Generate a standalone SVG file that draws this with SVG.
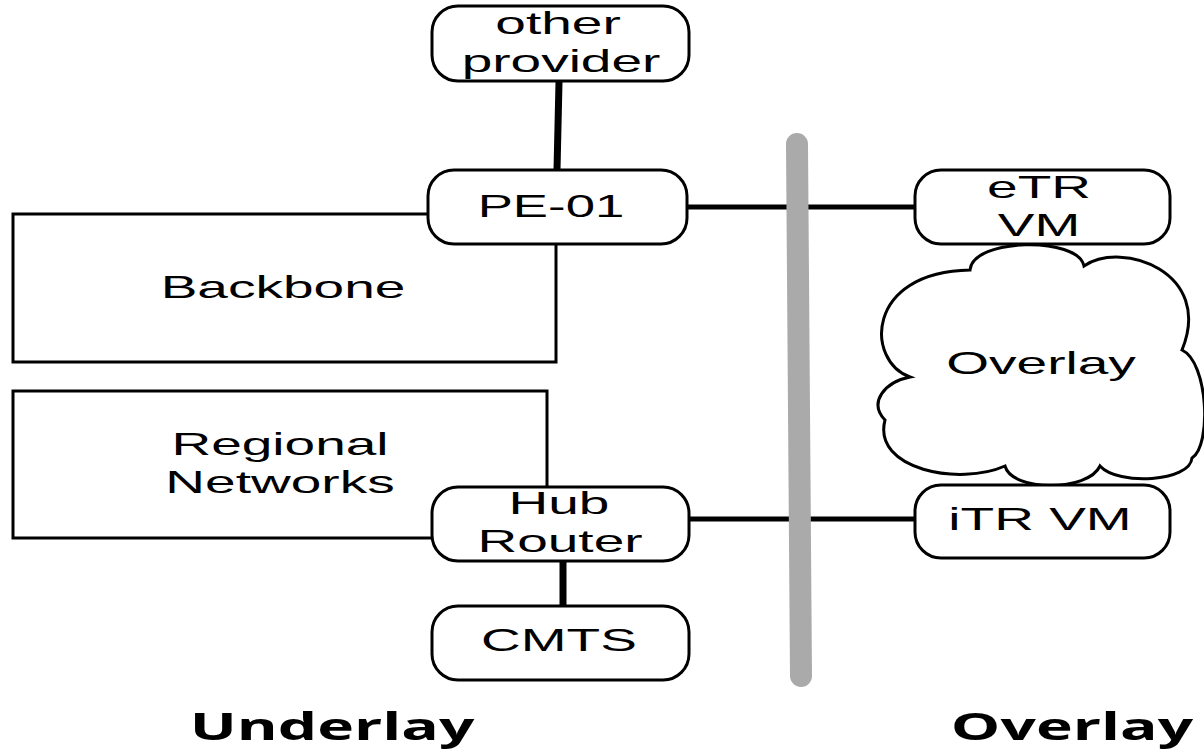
<svg xmlns="http://www.w3.org/2000/svg" width="1204" height="754" viewBox="0 0 1204 754">
<style>
.box{fill:#fff;stroke:#000;stroke-width:3}
.area{fill:none;stroke:#000;stroke-width:3}
.t{font-family:"Liberation Sans",Arial,sans-serif;font-size:32px;fill:#000;text-anchor:middle}
.b{font-family:"Open Sans","DejaVu Sans",sans-serif;font-weight:bold;font-size:38px;fill:#000;text-anchor:middle}
.ln{stroke:#000;stroke-width:5;fill:none}
.thick{stroke:#000;stroke-width:7;fill:none}
</style>
<rect width="1204" height="754" fill="#fff"/>
<g id="backbone">
<path class="area" d="M428 214 H13 V362 H556 V244"/>
<text class="t" transform="translate(283,298) scale(1.72,1)">Backbone</text>
</g>
<g id="regional">
<path class="area" d="M547 487 V391 H13 V538 H432"/>
<text class="t" transform="translate(280,455) scale(1.72,1)">Regional</text>
<text class="t" transform="translate(280,493) scale(1.72,1)">Networks</text>
</g>
<g id="connectors">
<line class="thick" x1="559" y1="82" x2="557" y2="170"/>
<line class="thick" x1="563" y1="562" x2="563" y2="606"/>
<line class="ln" x1="681" y1="207" x2="915" y2="207"/>
<line class="ln" x1="681" y1="519" x2="915" y2="519"/>
</g>
<g id="other-provider">
<rect class="box" x="432" y="6" width="257" height="75" rx="26"/>
<text class="t" transform="translate(558,34) scale(1.72,1)">other</text>
<text class="t" transform="translate(561,72) scale(1.72,1)">provider</text>
</g>
<g id="pe01">
<rect class="box" x="428" y="170" width="259" height="74" rx="26"/>
<text class="t" transform="translate(551,217) scale(1.65,1)">PE-01</text>
</g>
<g id="hub-router">
<rect class="box" x="432" y="487" width="257" height="74" rx="26"/>
<text class="t" transform="translate(559,514) scale(1.72,1)">Hub</text>
<text class="t" transform="translate(560,552) scale(1.72,1)">Router</text>
</g>
<g id="cmts">
<rect class="box" x="432" y="606" width="257" height="74" rx="26"/>
<text class="t" transform="translate(559,651) scale(1.72,1)">CMTS</text>
</g>
<g id="divider">
<line x1="797" y1="144" x2="801" y2="676" stroke="#aaaaaa" stroke-width="22" stroke-linecap="round"/>
</g>
<g id="etr-vm">
<rect class="box" x="915" y="170" width="255" height="74" rx="26"/>
<text class="t" transform="translate(1039,198) scale(1.72,1)">eTR</text>
<text class="t" transform="translate(1039,236) scale(1.72,1)">VM</text>
</g>
<g id="overlay-cloud">
<path class="box" d="M910 377 C866 362 864 272 970 270 C972 238 1078 236 1084 266 C1122 240 1214 272 1182 350 C1208 362 1212 445 1192 458 C1190 482 1118 486 1100 466 C1088 492 1012 492 1005 466 C960 486 872 470 885 420 C868 402 885 382 910 377 Z"/>
<text class="t" transform="translate(1041,374) scale(1.72,1)">Overlay</text>
</g>
<g id="itr-vm">
<rect class="box" x="915" y="485" width="255" height="73" rx="26"/>
<text class="t" transform="translate(1040,530) scale(1.72,1)">iTR VM</text>
</g>
<g id="labels">
<text class="b" transform="translate(332,740) scale(1.64,1)">Underlay</text>
<text class="b" transform="translate(1072,740) scale(1.64,1)">Overlay</text>
</g>
</svg>
